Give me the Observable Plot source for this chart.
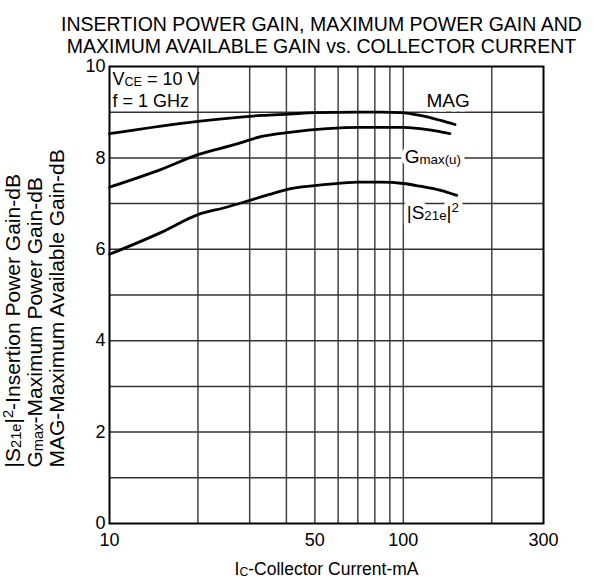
<!DOCTYPE html>
<html><head><meta charset="utf-8">
<script src="https://cdn.jsdelivr.net/npm/d3@7"></script>
<script src="https://cdn.jsdelivr.net/npm/@observablehq/plot@0.6"></script>
<style>body{margin:0;background:#fff;} #chart{width:594px;height:585px;}</style>
</head><body><div id="chart"></div>
<script>
// Data
const magX  = [10, 20, 33, 41, 50, 70, 84, 98, 114, 134, 150];
const magY  = [8.53, 8.80, 8.93, 8.96, 8.99, 9.0, 9.0, 8.99, 8.93, 8.82, 8.73];
const gmaxX = [10, 15, 20, 27, 33, 41, 55, 70, 98, 114, 132, 144];
const gmaxY = [7.36, 7.75, 8.07, 8.30, 8.47, 8.56, 8.64, 8.67, 8.67, 8.64, 8.58, 8.53];
const s21X  = [10, 15, 20, 25, 30, 35, 41, 55, 70, 84, 100, 114, 134, 152];
const s21Y  = [5.89, 6.37, 6.76, 6.92, 7.07, 7.2, 7.32, 7.42, 7.47, 7.47, 7.44, 7.38, 7.29, 7.18];

const xTicks = [10, 50, 100, 300];
const xGrid  = [20, 30, 40, 50, 60, 70, 80, 90, 100, 200];
const yTicks = [0, 2, 4, 6, 8, 10];
const yGrid  = [1, 2, 3, 4, 5, 6, 7, 8, 9];

const seriesNames = ["MAG", "Gmax(u)", "|S21e|2"];
const titleLines = ["INSERTION POWER GAIN, MAXIMUM POWER GAIN AND", "MAXIMUM AVAILABLE GAIN vs. COLLECTOR CURRENT"];
const condLines = ["VCE = 10 V", "f = 1 GHz"];
const xLabel = "Ic-Collector Current-mA";
const yLabels = ["|S21e|2-Insertion Power Gain-dB", "Gmax-Maximum Power Gain-dB", "MAG-Maximum Available Gain-dB"];

const toRows = (xs, ys) => xs.map((x, i) => ({x, y: ys[i]}));
const mag = toRows(magX, magY), gmax = toRows(gmaxX, gmaxY), s21 = toRows(s21X, s21Y);

const F = "Liberation Sans, Arial, Helvetica, sans-serif";
const lineOpts = {x: "x", y: "y", stroke: "black", strokeWidth: 2.8, curve: "monotone-x"};

// curve label placements (white box behind, then text)
const labelMarks = [
  {name: seriesNames[0], x: 142, y: 9.25, w: 54},
  {name: seriesNames[1], x: 126, y: 8.03, w: 62},
  {name: seriesNames[2], x: 126, y: 6.79, w: 58}
].flatMap(o => [
  Plot.text([o.name], {x: o.x, y: o.y, text: d => d, fontSize: 19, fill: "white", stroke: "white", strokeWidth: 9}),
  Plot.text([o.name], {x: o.x, y: o.y, text: d => d, fontSize: 19, fill: "black"})
]);

const svg = Plot.plot({
  width: 594, height: 585,
  marginLeft: 109, marginRight: 51, marginTop: 66, marginBottom: 62,
  style: {fontFamily: F, fontSize: "18px", color: "black", background: "white"},
  x: {type: "log", domain: [10, 300]},
  y: {domain: [0, 10]},
  marks: [
    Plot.ruleX(xGrid, {stroke: "#444", strokeWidth: 1.5}),
    Plot.ruleY(yGrid, {stroke: "#333", strokeWidth: 1.5}),
    Plot.frame({stroke: "black", strokeWidth: 2}),
    Plot.axisX({ticks: xTicks, tickSize: 0, tickPadding: 10, tickFormat: d => String(d), fontSize: 18, label: null}),
    Plot.axisY({ticks: yTicks, tickSize: 0, tickPadding: 4, tickFormat: d => String(d), fontSize: 18, label: null}),
    Plot.line(mag, lineOpts),
    Plot.line(gmax, lineOpts),
    Plot.line(s21, lineOpts),
    ...labelMarks,
    // conditions
    Plot.text([condLines[0]], {x: 10, y: 9.72, dx: 3, text: d => d, textAnchor: "start", fontSize: 18}),
    Plot.text([condLines[1]], {x: 10, y: 9.23, dx: 3, text: d => d, textAnchor: "start", fontSize: 18}),
    // title
    Plot.text([titleLines[0]], {frameAnchor: "top", dx: -5, dy: -49, text: d => d, fontSize: 19.5}),
    Plot.text([titleLines[1]], {frameAnchor: "top", dx: -5, dy: -27, text: d => d, fontSize: 19.5}),
    // axis labels
    Plot.text([xLabel], {frameAnchor: "bottom", dy: 51, text: d => d, fontSize: 17.5}),
    Plot.text([yLabels[0]], {frameAnchor: "bottom-left", dx: -90, dy: -56, rotate: -90, textAnchor: "start", text: d => d, fontSize: 21}),
    Plot.text([yLabels[1]], {frameAnchor: "bottom-left", dx: -68, dy: -56, rotate: -90, textAnchor: "start", text: d => d, fontSize: 21}),
    Plot.text([yLabels[2]], {frameAnchor: "bottom-left", dx: -46, dy: -56, rotate: -90, textAnchor: "start", text: d => d, fontSize: 21})
  ]
});

// rich text: subscripts / superscripts
const rich = {
  "VCE = 10 V": [["V"], ["CE", "sub"], [" = 10 V"]],
  "Gmax(u)": [["G"], ["max(u)", "sub"]],
  "|S21e|2": [["|S"], ["21e", "sub"], ["|"], ["2", "sup"]],
  "Ic-Collector Current-mA": [["I"], ["C", "sub"], ["-Collector Current-mA"]],
  "|S21e|2-Insertion Power Gain-dB": [["|S"], ["21e", "sub"], ["|"], ["2", "sup"], ["-Insertion Power Gain-dB"]],
  "Gmax-Maximum Power Gain-dB": [["G"], ["max", "sub"], ["-Maximum Power Gain-dB"]]
};
d3.select(svg).selectAll("text").each(function() {
  const parts = rich[this.textContent];
  if (!parts) return;
  const t = d3.select(this);
  t.text(null);
  let shift = 0;
  for (const [s, kind] of parts) {
    const span = t.append("tspan").text(s);
    let target = 0;
    if (kind === "sub") { span.attr("font-size", "0.7em"); target = 1; }
    else if (kind === "sup") { span.attr("font-size", "0.7em"); target = -7; }
    if (target !== shift) span.attr("dy", target - shift);
    shift = target;
  }
});

document.getElementById("chart").appendChild(svg);
</script>
</body></html>
